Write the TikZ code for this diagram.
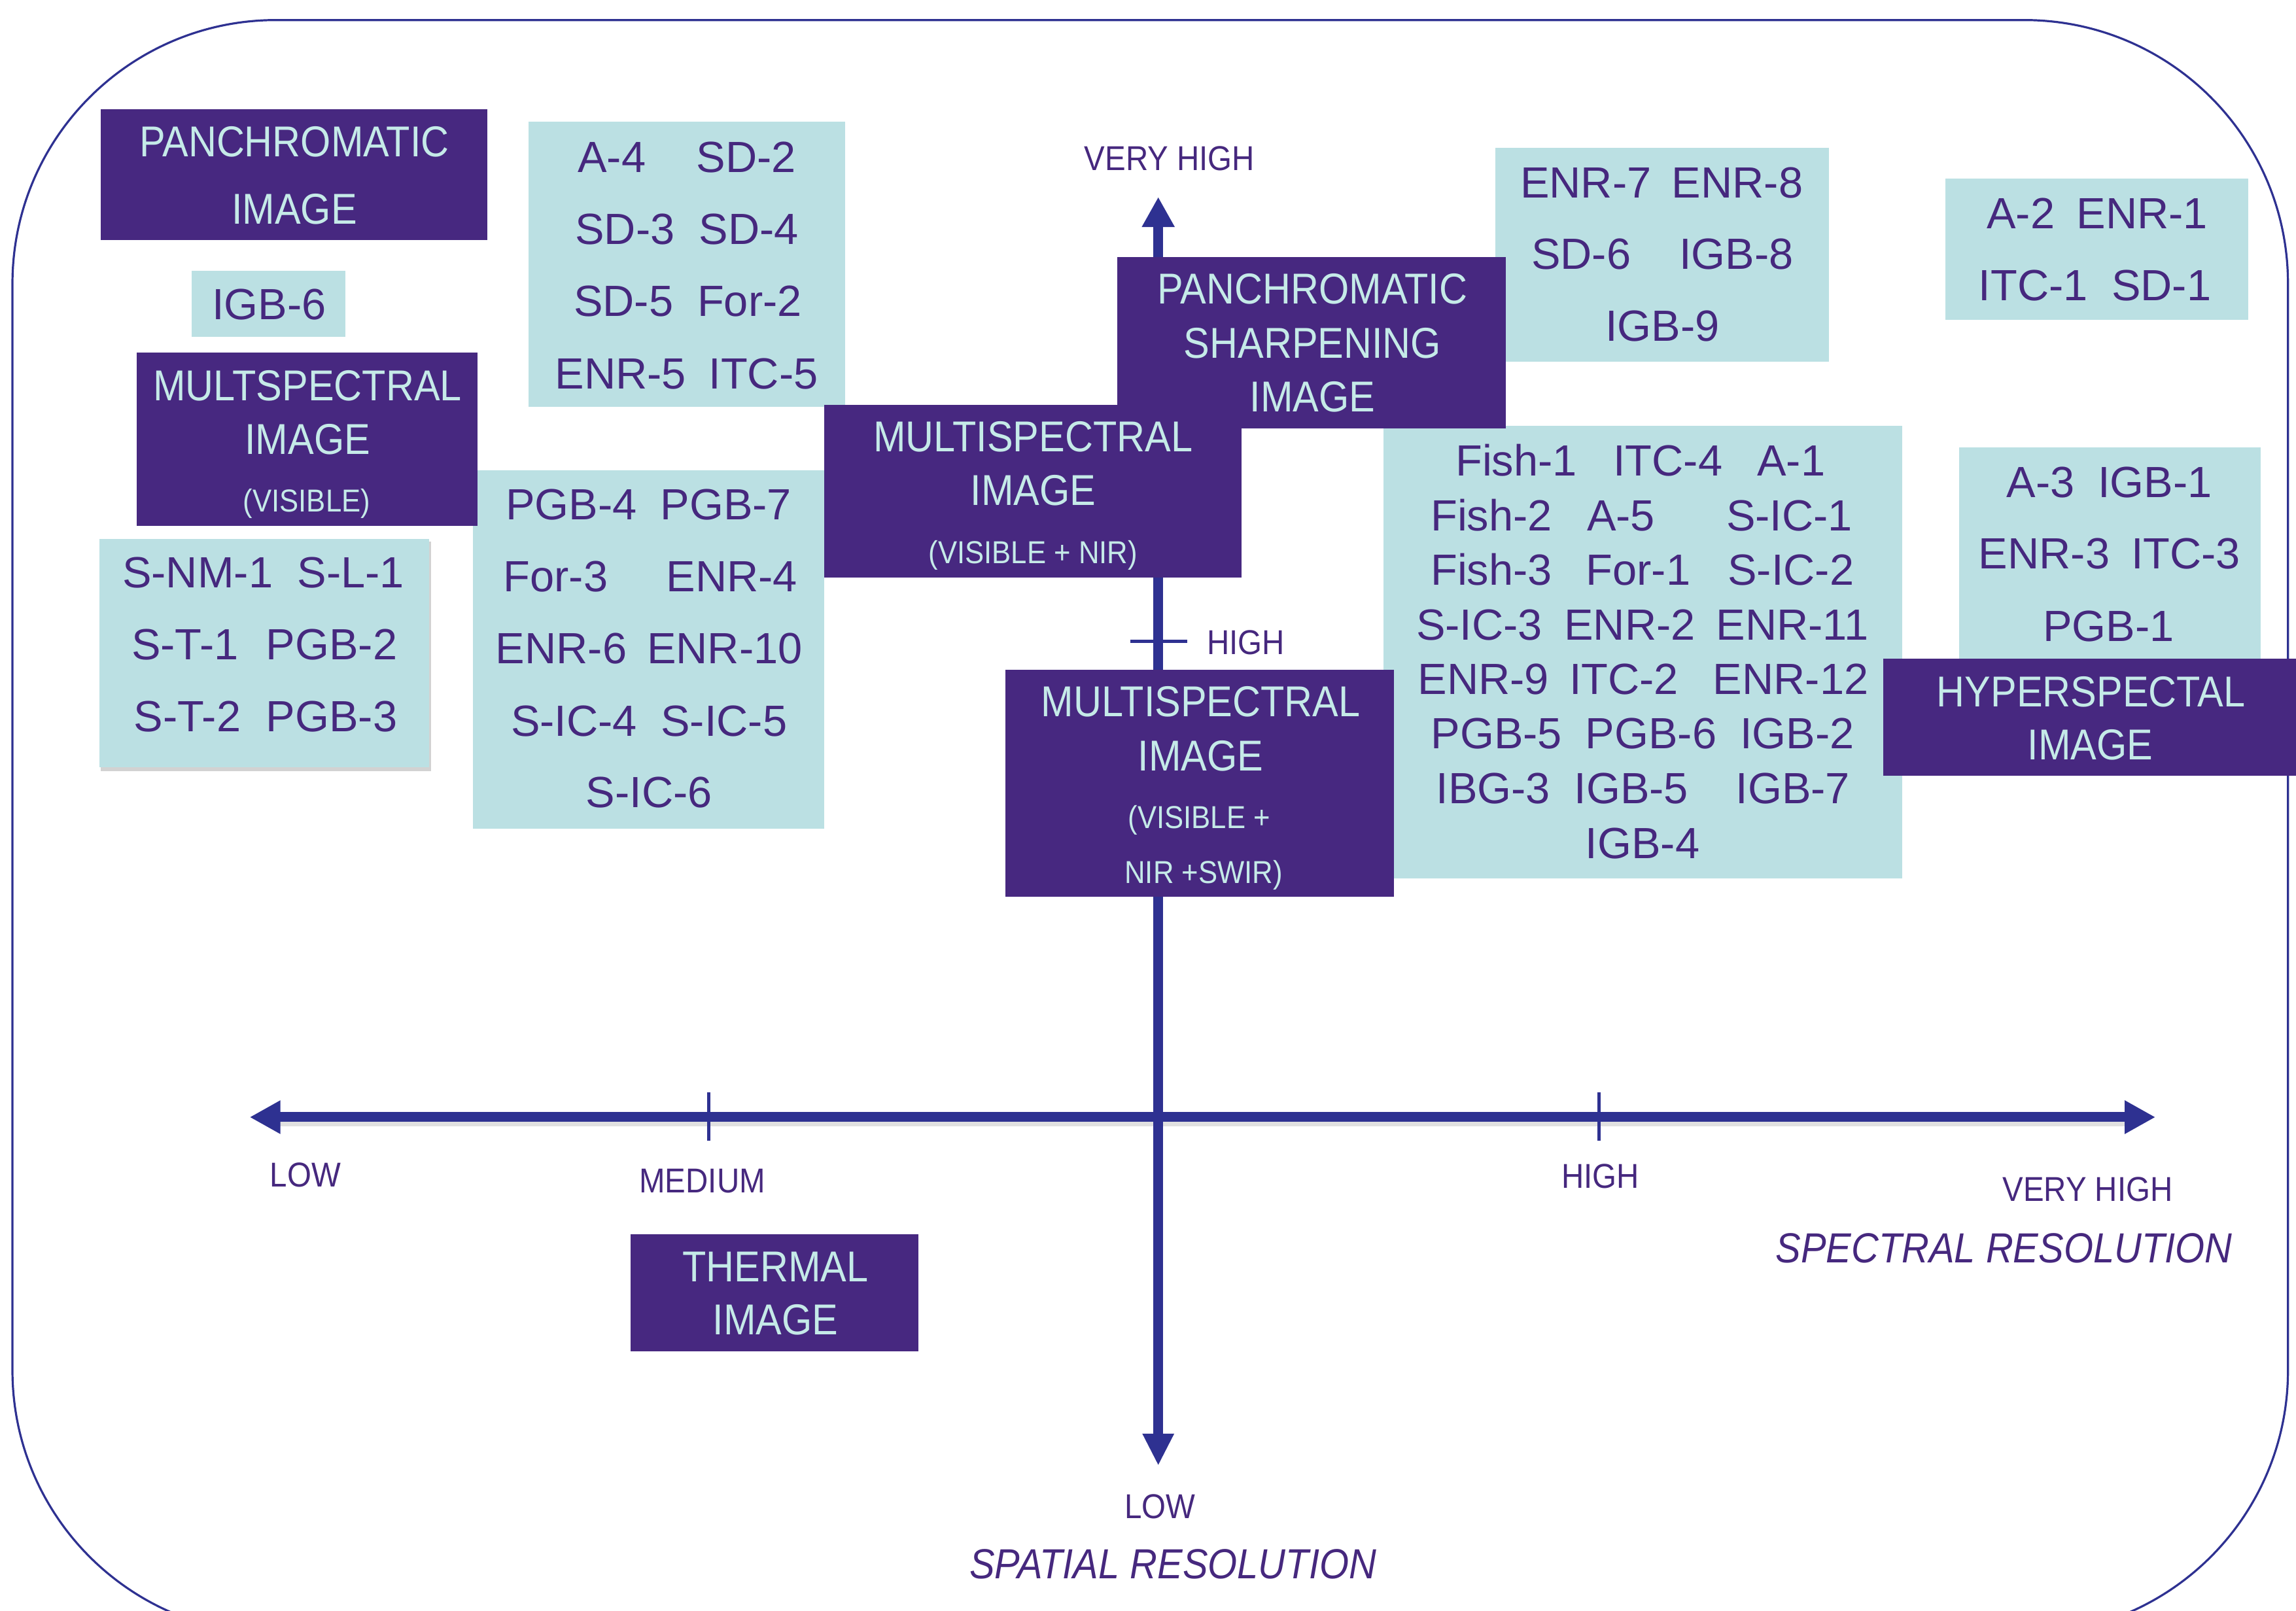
\documentclass[tikz,border=0pt]{standalone}
\usepackage{fontspec}
\setmainfont{Liberation Sans}
\newfontfamily\nfont[FakeStretch=0.9]{Liberation Sans}
\usetikzlibrary{arrows.meta,fit}
\definecolor{boxpurple}{RGB}{71,40,128}
\definecolor{boxcyan}{RGB}{187,224,227}
\definecolor{darktext}{RGB}{70,40,126}
\definecolor{lighttext}{RGB}{197,234,232}
\definecolor{axisblue}{RGB}{46,49,145}
\begin{document}
\begin{tikzpicture}[x=0.22385mm, y=-0.22385mm,
  pbox/.style={fill=boxpurple, inner sep=0pt, draw=none},
  cbox/.style={fill=boxcyan, inner sep=0pt, draw=none},
  ctxt/.style={font=\fontsize{19}{22}\selectfont, text=darktext, inner sep=0pt, text height=13.6pt, text depth=0pt},
  ptxt/.style={font=\nfont\fontsize{18.8}{22}\selectfont, text=lighttext, inner sep=0pt, text height=13.4pt, text depth=0pt},
  psmall/.style={font=\nfont\fontsize{13.8}{16}\selectfont, text=lighttext, inner sep=0pt, text height=9.9pt, text depth=0pt},
  lbl/.style={font=\nfont\fontsize{15}{18}\selectfont, text=darktext, inner sep=0pt, text height=10.7pt, text depth=0pt},
  ttl/.style={font=\nfont\itshape\fontsize{18.3}{21}\selectfont, text=darktext, inner sep=0pt, text height=13.1pt, text depth=0pt},
  border/.style={draw=axisblue, line width=0.32mm, rounded corners=40.3mm},
  axisline/.style={draw=axisblue, line width=1.5mm},
  tickline/.style={draw=axisblue, line width=0.5mm}
]
\path[use as bounding box] (0,0) rectangle (1568,1100);
\clip (0,0) rectangle (1568,1100);

% outer frame
\draw[border] (8.5,13.7) rectangle (1562.5,1116);

% axes
\coordinate (vtop) at (791,134.5);
\coordinate (vbot) at (791,1001);
\coordinate (hl) at (170.5,763);
\coordinate (hr) at (1472,763);
\draw[black!12, line width=1mm] (191,767) -- (1452,767);
\draw[axisline, {Triangle[length=4.7mm,width=4.8mm]}-{Triangle[length=4.7mm,width=4.8mm]}] (hl) -- (hr);
\draw[axisline, {Triangle[length=4.6mm,width=4.7mm]}-{Triangle[length=4.9mm,width=4.5mm]}] (vtop) -- (vbot);
\draw[tickline] (484,746) -- (484,779);
\draw[tickline] (1092,746) -- (1092,779);
\draw[tickline] (772,438) -- (811,438);

% cyan boxes
\node[cbox, fit={(131,185) (236,230)}] (c1) {};
\fill[black!35, opacity=0.5] (69,370) rectangle (294.5,526.5);
\node[cbox, fit={(68,368) (293,524)}] (c2) {};
\node[cbox, fit={(361,83) (577,278)}] (c3) {};
\node[cbox, fit={(323,321) (563,566)}] (c4) {};
\node[cbox, fit={(1021,101) (1249,247)}] (c5) {};
\node[cbox, fit={(1328.5,122) (1535.5,218.5)}] (c6) {};
\node[cbox, fit={(1338,305.5) (1544,460)}] (c7) {};
\node[cbox, fit={(945,291) (1299,600)}] (c8) {};

% purple boxes
\node[pbox, fit={(69,74.5) (333,164)}] (p1) {};
\node[pbox, fit={(93.5,241) (326,359)}] (p2) {};
\node[pbox, fit={(563,276.5) (848,394.5)}] (p3) {};
\node[pbox, fit={(763,175.5) (1028.5,292.5)}] (p4) {};
\node[pbox, fit={(686.5,457.5) (952,612.5)}] (p5) {};
\node[pbox, fit={(1286,450) (1570,530)}] (p6) {};
\node[pbox, fit={(430.5,843) (627,923)}] (p7) {};

% purple box texts
\node[ptxt] (p1a) at (201,96.5) {PANCHROMATIC};
\node[ptxt] (p1b) at (201,142.3) {IMAGE};
\node[ptxt] (p2a) at (210,263) {MULTSPECTRAL};
\node[ptxt] (p2b) at (210,299.7) {IMAGE};
\node[psmall] (p2c) at (209.5,341.7) {(VISIBLE)};
\node[ptxt] (p3a) at (705.5,298) {MULTISPECTRAL};
\node[ptxt] (p3b) at (705.5,334.7) {IMAGE};
\node[psmall] (p3c) at (705.5,377) {(VISIBLE + NIR)};
\node[ptxt] (p4a) at (896.3,197) {PANCHROMATIC};
\node[ptxt] (p4b) at (896.3,234) {SHARPENING};
\node[ptxt] (p4c) at (896.3,270.5) {IMAGE};
\node[ptxt] (p5a) at (820,479) {MULTISPECTRAL};
\node[ptxt] (p5b) at (820,516) {IMAGE};
\node[psmall] (p5c) at (819,558) {(VISIBLE +};
\node[psmall] (p5d) at (822,595.5) {NIR +SWIR)};
\node[ptxt] (p6a) at (1428,472) {HYPERSPECTAL};
\node[ptxt] (p6b) at (1427.5,508.5) {IMAGE};
\node[ptxt] (p7a) at (529.5,865) {THERMAL};
\node[ptxt] (p7b) at (529.5,901) {IMAGE};

% cyan box texts
\node[ctxt] (c1a) at (183.7,207.7) {IGB-6};

\node[ctxt] (c2a) at (135,390.5) {S-NM-1};
\node[ctxt] (c2b) at (239.5,390.5) {S-L-1};
\node[ctxt] (c2c) at (126.3,439.8) {S-T-1};
\node[ctxt] (c2d) at (226.5,439.8) {PGB-2};
\node[ctxt] (c2e) at (128,489.1) {S-T-2};
\node[ctxt] (c2f) at (226.5,489.1) {PGB-3};

\node[ctxt] (c3a) at (417.8,107) {A-4};
\node[ctxt] (c3b) at (509.5,107) {SD-2};
\node[ctxt] (c3c) at (426.8,156.2) {SD-3};
\node[ctxt] (c3d) at (511.5,156.2) {SD-4};
\node[ctxt] (c3e) at (425.8,205.4) {SD-5};
\node[ctxt] (c3f) at (511.9,205.4) {For-2};
\node[ctxt] (c3g) at (423.8,254.8) {ENR-5};
\node[ctxt] (c3h) at (521.3,254.8) {ITC-5};

\node[ctxt] (c4a) at (390.2,344.3) {PGB-4};
\node[ctxt] (c4b) at (495.8,344.3) {PGB-7};
\node[ctxt] (c4c) at (379.5,393.4) {For-3};
\node[ctxt] (c4d) at (499.8,393.4) {ENR-4};
\node[ctxt] (c4e) at (383.3,442.7) {ENR-6};
\node[ctxt] (c4f) at (494.9,442.7) {ENR-10};
\node[ctxt] (c4g) at (392,492) {S-IC-4};
\node[ctxt] (c4h) at (494.4,492) {S-IC-5};
\node[ctxt] (c4i) at (443.2,541) {S-IC-6};

\node[ctxt] (c5a) at (1083,124.4) {ENR-7};
\node[ctxt] (c5b) at (1186.5,124.4) {ENR-8};
\node[ctxt] (c5c) at (1079.8,173) {SD-6};
\node[ctxt] (c5d) at (1185.8,173) {IGB-8};
\node[ctxt] (c5e) at (1135.3,222.2) {IGB-9};

\node[ctxt] (c6a) at (1380,145.3) {A-2};
\node[ctxt] (c6b) at (1462.9,145.3) {ENR-1};
\node[ctxt] (c6c) at (1388.5,194.5) {ITC-1};
\node[ctxt] (c6d) at (1476,194.5) {SD-1};

\node[ctxt] (c7a) at (1393.5,329) {A-3};
\node[ctxt] (c7b) at (1471.7,329) {IGB-1};
\node[ctxt] (c7c) at (1396,377.8) {ENR-3};
\node[ctxt] (c7d) at (1492.7,377.8) {ITC-3};
\node[ctxt] (c7e) at (1440,427.2) {PGB-1};

\node[ctxt] (f1a) at (1035.5,314.4) {Fish-1};
\node[ctxt] (f1b) at (1139,314.4) {ITC-4};
\node[ctxt] (f1c) at (1223.2,314.4) {A-1};
\node[ctxt] (f2a) at (1018.5,352) {Fish-2};
\node[ctxt] (f2b) at (1107,352) {A-5};
\node[ctxt] (f2c) at (1222,352) {S-IC-1};
\node[ctxt] (f3a) at (1018.5,388.9) {Fish-3};
\node[ctxt] (f3b) at (1118.8,388.9) {For-1};
\node[ctxt] (f3c) at (1223,388.9) {S-IC-2};
\node[ctxt] (f4a) at (1010.3,426.5) {S-IC-3};
\node[ctxt] (f4b) at (1113,426.5) {ENR-2};
\node[ctxt] (f4c) at (1224,426.5) {ENR-11};
\node[ctxt] (f5a) at (1013,463.6) {ENR-9};
\node[ctxt] (f5b) at (1109,463.6) {ITC-2};
\node[ctxt] (f5c) at (1223,463.6) {ENR-12};
\node[ctxt] (f6a) at (1022,500.6) {PGB-5};
\node[ctxt] (f6b) at (1127.5,500.6) {PGB-6};
\node[ctxt] (f6c) at (1227.3,500.6) {IGB-2};
\node[ctxt] (f7a) at (1019.8,538) {IBG-3};
\node[ctxt] (f7b) at (1114,538) {IGB-5};
\node[ctxt] (f7c) at (1224.4,538) {IGB-7};
\node[ctxt] (f8a) at (1121.7,575.5) {IGB-4};

% axis labels
\node[lbl] (l1) at (798.7,107.8) {VERY HIGH};
\node[lbl, anchor=west] (l2) at (824,438.5) {HIGH};
\node[lbl] (l3) at (208.6,802) {LOW};
\node[lbl] (l4) at (479.6,806) {MEDIUM};
\node[lbl] (l5) at (1093,803) {HIGH};
\node[lbl] (l6) at (1425.7,812) {VERY HIGH};
\node[ttl] (l7) at (1368.5,852) {SPECTRAL RESOLUTION};
\node[lbl] (l8) at (792.2,1028.5) {LOW};
\node[ttl] (l9) at (801,1068) {SPATIAL RESOLUTION};
\end{tikzpicture}
\end{document}
